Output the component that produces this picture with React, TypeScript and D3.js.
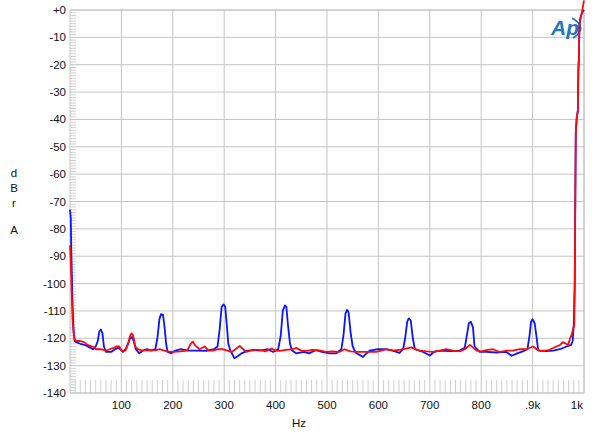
import React from "react";
import * as d3 from "d3";

const xTicks = [100, 200, 300, 400, 500, 600, 700, 800, 900, 1000];
const xTickLabels = ["100", "200", "300", "400", "500", "600", "700", "800", ".9k", "1k"];
const yTicks = [0, -10, -20, -30, -40, -50, -60, -70, -80, -90, -100, -110, -120, -130, -140];
const yTickLabels = ["+0", "-10", "-20", "-30", "-40", "-50", "-60", "-70", "-80", "-90", "-100", "-110", "-120", "-130", "-140"];
const yAxisLetters = ["d", "B", "r", "A"];
const xAxisTitle = "Hz";

const blueData: [number, number][] = [
  [0, -73], [1.5, -76], [2.5, -88], [4, -100], [5, -108], [7, -117], [9, -121], [13, -121.5], [20, -122], [30, -122.5], [40, -123.5], [45, -124], [50, -123], [54, -121], [57, -117.5], [60, -116.8], [63, -118], [66, -123], [70, -125], [80, -125], [88, -124], [93, -123.5], [98, -124], [103, -125], [108, -124], [113, -122], [117, -120], [120, -119.5], [124, -121], [128, -124], [135, -125.5], [142, -124.5], [150, -124], [158, -124.5], [166, -124], [170, -120], [174, -113], [177, -111.2], [181, -111.4], [184, -116], [187, -122], [190, -125], [197, -125.5], [205, -124.5], [215, -124], [230, -124.5], [245, -124.5], [265, -124.6], [280, -124], [287, -123], [291, -117], [295, -108.5], [299, -107.6], [302, -108.5], [305, -115], [308, -122], [312, -124.5], [320, -127.3], [327, -126.5], [333, -125.6], [345, -124.5], [356, -124.3], [370, -124.5], [385, -124], [395, -125], [405, -124], [410, -119], [414, -110], [418, -108], [421, -108.5], [424, -115], [428, -122], [432, -124.5], [440, -125.5], [455, -125], [465, -125.5], [479, -124.3], [490, -125], [505, -125.5], [518, -125.5], [528, -124], [532, -119], [536, -111], [539, -109.6], [542, -110.5], [546, -118], [550, -123], [556, -125.3], [570, -126.8], [577, -125.5], [583, -124.5], [599, -124], [612, -124], [625, -124.3], [641, -125.3], [648, -124], [652, -120], [656, -114], [659, -112.7], [663, -113.5], [667, -120], [671, -124], [687, -125], [700, -126.3], [708, -125], [719, -124.5], [740, -124.7], [758, -124.5], [768, -123.5], [772, -119], [776, -114.5], [780, -114], [784, -116], [787, -123], [797, -125], [810, -125], [830, -125.2], [849, -125], [859, -126.4], [870, -125.5], [881, -124.8], [890, -124], [894, -119], [897, -114], [900, -113], [904, -114.5], [908, -120], [911, -124.5], [927, -124.7], [940, -124.5], [953, -124], [966, -123], [975, -122.4], [978, -121], [980, -115.3], [982, -100], [983, -70], [984, -45], [986, -39], [988, -37], [989, -22], [990, -18], [991, -6], [993, -3], [996, -1], [1000, 0]
];

const redData: [number, number][] = [
  [0, -86], [1.5, -92], [3, -102], [5, -113], [7, -118], [9, -120.5], [13, -121], [20, -121], [28, -121.5], [35, -122.5], [44, -123], [51, -124], [60, -124], [70, -124.5], [77, -124], [85, -123.5], [90, -123], [96, -123], [100, -124.5], [108, -124.5], [113, -122], [117, -119], [120, -118.2], [123, -119], [127, -123], [132, -124], [140, -124.5], [150, -124.3], [160, -124.4], [168, -124.3], [174, -124], [180, -124.3], [189, -124.8], [200, -125], [215, -124.8], [228, -124.5], [235, -122], [239, -121.2], [243, -122.5], [252, -124], [262, -123], [270, -124.5], [278, -124.5], [288, -124], [297, -124], [306, -124.5], [315, -125], [322, -124], [330, -122.8], [337, -124], [343, -125], [356, -124.2], [369, -124.2], [380, -124.8], [392, -123.8], [400, -124.5], [408, -124.6], [420, -124.2], [434, -124], [440, -123.5], [450, -124.5], [460, -124.6], [472, -124.2], [485, -124.4], [498, -125], [510, -124.8], [524, -125], [534, -124], [545, -124.8], [557, -125], [575, -125], [596, -125], [605, -124.5], [615, -124], [628, -124.5], [640, -124.2], [654, -123.8], [664, -123.3], [672, -124], [680, -124.5], [694, -124.8], [706, -125], [720, -124.5], [732, -124], [745, -124.5], [758, -124.8], [768, -124], [778, -122.4], [785, -123.5], [791, -124.5], [800, -124.8], [810, -124.3], [823, -124], [836, -125], [850, -124.5], [862, -124.5], [875, -124], [888, -124], [901, -123], [908, -124], [914, -124.5], [925, -124.5], [933, -124.2], [946, -123], [953, -122.5], [959, -121.4], [965, -122], [969, -122.5], [973, -120], [976, -118.8], [979, -116.4], [981, -115.5], [982, -100], [983, -70], [984, -45], [986, -39], [988, -37], [989, -22], [990, -18], [991, -6], [993, -3], [996, -1], [1000, 3.5]
];

const W = 600;
const H = 434;
const L = 70;
const R = 584;
const T = 10;
const B = 393;

export default function App() {
  const x = d3.scaleLinear().domain([0, 1000]).range([L, R]);
  const y = d3.scaleLinear().domain([-140, 0]).range([B, T]);
  const line = d3
    .line<[number, number]>()
    .x((d) => x(d[0]))
    .y((d) => y(d[1]))
    .curve(d3.curveLinear);

  const minorX = d3.range(10, 1000, 10).filter((v) => v % 100 !== 0);
  const minorY = d3.range(-139, 0, 1).filter((v) => v % 10 !== 0);
  const grid = "#c4c4c4";
  const font = "Liberation Sans, Arial, Helvetica, sans-serif";

  return (
    <div style={{ position: "fixed", left: 0, top: 0, width: W, height: H, background: "#fff" }}>
      <svg width={W} height={H} style={{ display: "block" }} fontFamily={font}>
        <rect x={0} y={0} width={W} height={H} fill="#fff" />
        {minorX.map((v) => (
          <line key={"mx" + v} x1={x(v)} x2={x(v)} y1={B - 13} y2={B} stroke="#d0d0d0" strokeWidth={1} />
        ))}
        {minorY.map((v) => (
          <line key={"my" + v} x1={L} x2={L + 6} y1={y(v)} y2={y(v)} stroke="#d0d0d0" strokeWidth={1} />
        ))}
        {xTicks.map((v) => (
          <line key={"gx" + v} x1={x(v)} x2={x(v)} y1={T} y2={B} stroke={grid} strokeWidth={1} />
        ))}
        {yTicks.map((v) => (
          <line key={"gy" + v} x1={L} x2={R} y1={y(v)} y2={y(v)} stroke={grid} strokeWidth={1} />
        ))}
        <rect x={L} y={T} width={R - L} height={B - T} fill="none" stroke={grid} strokeWidth={1} />
        {yTicks.map((v, i) => (
          <text key={"ty" + v} x={66} y={y(v) + 4} textAnchor="end" fontSize={11.5} fill="#111">
            {yTickLabels[i]}
          </text>
        ))}
        {xTicks.map((v, i) => (
          <text
            key={"tx" + v}
            x={v === 1000 ? x(v) - 1 : x(v)}
            y={409}
            textAnchor={v === 1000 ? "end" : "middle"}
            fontSize={11.5}
            fill="#111"
          >
            {xTickLabels[i]}
          </text>
        ))}
        <text x={299} y={427} textAnchor="middle" fontSize={11.5} fill="#111">
          {xAxisTitle}
        </text>
        {yAxisLetters.map((c, i) => (
          <text key={"yl" + i} x={14} y={[177, 192, 207, 234][i]} textAnchor="middle" fontSize={11.5} fill="#111">
            {c}
          </text>
        ))}
        <g>
          <text x={551} y={35} fontSize={21} fontStyle="italic" fontWeight="bold" fill="#2176bb" fontFamily={font}>
            Ap
          </text>
          <path d="M 572 18 Q 589 28 573 38" fill="none" stroke="#2176bb" strokeWidth={1.6} />
        </g>
        <path d={line(blueData) || ""} fill="none" stroke="#0a14ff" strokeWidth={1.8} strokeLinejoin="round" />
        <path d={line(redData) || ""} fill="none" stroke="#ff0a0a" strokeWidth={1.8} strokeLinejoin="round" />
      </svg>
    </div>
  );
}
